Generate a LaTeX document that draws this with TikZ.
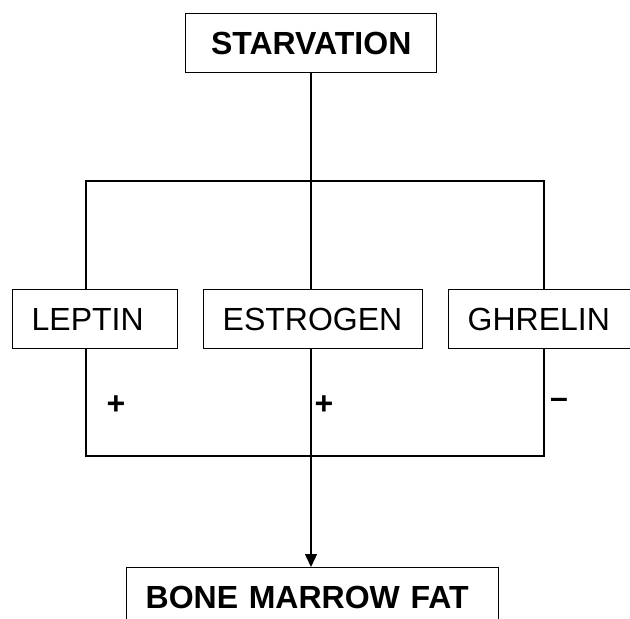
\documentclass[tikz,border=0pt]{standalone}
\usepackage{fontspec}
\setmainfont{Liberation Sans}
\usetikzlibrary{arrows.meta,calc}
\tikzset{
  sigbox/.style={draw=black,line width=1.4pt,anchor=north west,inner xsep=19pt,inner ysep=0pt,minimum height=59pt,align=left,font=\fontsize{32}{38}\selectfont},
  sigboldbox/.style={sigbox,font=\fontsize{32}{38}\selectfont\bfseries},
  siglink/.style={draw=black,line width=1.4pt},
  sigarrow/.style={-{Triangle[width=12pt,length=13pt]},draw=black,line width=1.4pt},
  signote/.style={font=\fontsize{32}{38}\selectfont\bfseries,inner sep=0pt}
}
\begin{document}
\begin{tikzpicture}[x=1pt,y=-1pt]
\useasboundingbox (0,0) rectangle (630,619);
\clip (0,0) rectangle (630,619);
\node[sigboldbox,text width=213pt,inner xsep=19pt,align=center] (starv) at (185,13) {STARVATION};
\node[sigbox,text width=127pt] (leptin) at (12,289) {LEPTIN};
\node[sigbox,text width=181pt] (estro) at (203,289) {ESTROGEN};
\node[sigbox,text width=152pt] (ghrel) at (448,289) {GHRELIN};
\node[sigboldbox,text width=334pt] (fat) at (126,567) {BONE MARROW FAT};
\coordinate (splitL) at (86,181);
\coordinate (splitM) at (311,181);
\coordinate (splitR) at (544,181);
\coordinate (joinL) at (86,456);
\coordinate (joinR) at (544,456);
\draw[siglink] (starv.south -| splitM) -- (estro.north -| splitM);
\draw[siglink] (leptin.north -| splitL) |- (splitR) -- (ghrel.north -| splitR);
\draw[siglink] (leptin.south -| joinL) |- (joinR) -- (ghrel.south -| joinR);
\draw[sigarrow] (estro.south -| splitM) -- (fat.north -| splitM);
\node[signote] (plusL) at (116,405) {+};
\node[signote] (plusE) at (324,405) {+};
\node[signote] (minusG) at (559,403) {–};
\end{tikzpicture}
\end{document}
